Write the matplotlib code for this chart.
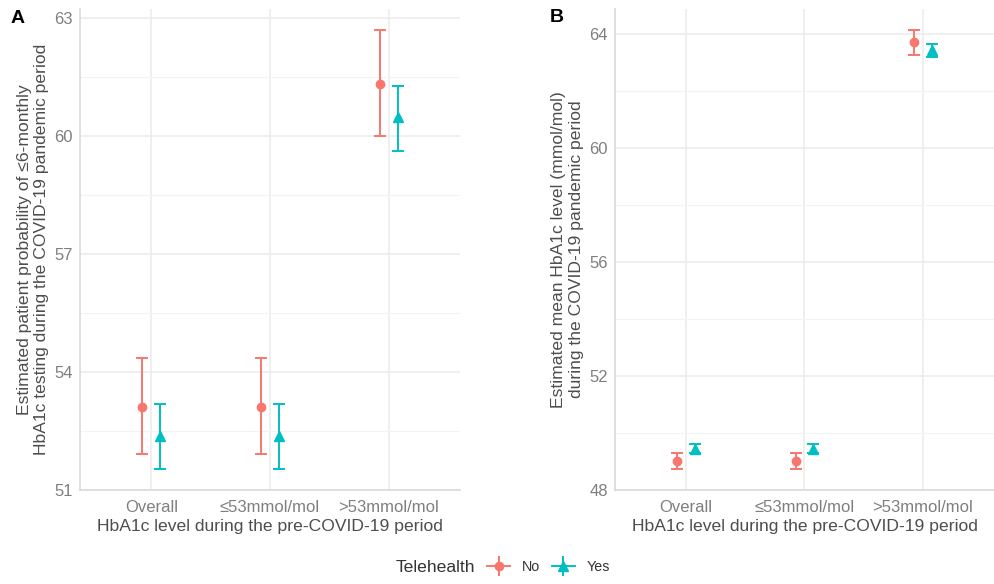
import numpy as np
import matplotlib.pyplot as plt
from matplotlib.lines import Line2D
from matplotlib.legend_handler import HandlerTuple

plt.rcParams['font.family'] = ['Liberation Sans', 'DejaVu Sans']

categories = ['Overall', '≤53mmol/mol', '>53mmol/mol']
groups = ['No', 'Yes']
colors = {'No': '#F8766D', 'Yes': '#00BFC4'}
markers = {'No': 'o', 'Yes': '^'}

# panel A: probability of <=6-monthly testing
a_est = {'No': [53.12, 53.12, 61.33], 'Yes': [52.37, 52.37, 60.48]}
a_lo = {'No': [51.91, 51.91, 60.00], 'Yes': [51.53, 51.53, 59.63]}
a_hi = {'No': [54.35, 54.35, 62.69], 'Yes': [53.18, 53.18, 61.28]}

# panel B: mean HbA1c level
b_est = {'No': [49.00, 49.00, 63.69], 'Yes': [49.45, 49.45, 63.43]}
b_lo = {'No': [48.74, 48.74, 63.26], 'Yes': [49.28, 49.28, 63.19]}
b_hi = {'No': [49.28, 49.28, 64.11], 'Yes': [49.62, 49.62, 63.63]}

TICK_C = '#7F7F7F'
TEXT_C = '#4D4D4D'
FS = 12.6
TFS = 12


def panel(ax, est, lo, hi, ylim, yticks, yminor, ylabel):
    x = np.arange(1, len(categories) + 1)
    for k, g in enumerate(groups):
        off = -0.075 if k == 0 else 0.075
        e = np.array(est[g])
        yerr = [e - np.array(lo[g]), np.array(hi[g]) - e]
        ax.errorbar(x + off, e, yerr=yerr, fmt=markers[g], color=colors[g],
                    ms=6 if g == 'No' else 7.5, elinewidth=1.4, capsize=4.3,
                    capthick=1.4, zorder=3)
    ax.set_xlim(0.4, 3.6)
    ax.set_ylim(*ylim)
    ax.set_xticks(x)
    ax.set_xticklabels(categories)
    ax.set_yticks(yticks)
    ax.set_yticks(yminor, minor=True)
    ax.grid(True, which='major', color='#EBEBEB', lw=1.1, zorder=0)
    ax.grid(True, which='minor', axis='y', color='#F3F3F3', lw=0.8, zorder=0)
    ax.tick_params(length=0, labelsize=TFS, labelcolor=TICK_C)
    ax.tick_params(axis='x', pad=7)
    ax.tick_params(axis='y', pad=5)
    ax.tick_params(which='minor', length=0)
    for s in ['top', 'right']:
        ax.spines[s].set_visible(False)
    for s in ['left', 'bottom']:
        ax.spines[s].set_color('#D9D9D9')
        ax.spines[s].set_linewidth(1.2)
    ax.set_xlabel('HbA1c level during the pre-COVID-19 period', fontsize=FS,
                  color=TEXT_C, labelpad=3)
    ax.set_ylabel(ylabel, fontsize=FS, color=TEXT_C, labelpad=4)
    ax.set_axisbelow(True)


fig = plt.figure(figsize=(9.94, 5.84), dpi=100)
axA = fig.add_axes([0.0805, 0.161, 0.3823, 0.8236])
axB = fig.add_axes([0.6187, 0.161, 0.3813, 0.8236])

panel(axA, a_est, a_lo, a_hi, (51, 63.23), [51, 54, 57, 60, 63],
      [52.5, 55.5, 58.5, 61.5],
      'Estimated patient probability of ≤6-monthly\nHbA1c testing during the COVID-19 pandemic period')
panel(axB, b_est, b_lo, b_hi, (48, 64.86), [48, 52, 56, 60, 64],
      [50, 54, 58, 62],
      'Estimated mean HbA1c level (mmol/mol)\nduring the COVID-19 pandemic period')

fig.text(0.011, 0.968, 'A', fontsize=14, fontweight='bold', ha='left', va='center')
fig.text(0.553, 0.970, 'B', fontsize=14, fontweight='bold', ha='left', va='center')

handles = []
for g in groups:
    h = (Line2D([], [], color=colors[g], lw=1.4),
         Line2D([], [], color=colors[g], marker='|', ms=14, mew=1.4, ls='none'),
         Line2D([], [], color=colors[g], marker=markers[g], ms=6 if g == 'No' else 7.5, ls='none'))
    handles.append(h)
fig.text(0.398, 0.029, 'Telehealth', fontsize=FS, color='#333333', va='center', ha='left')
leg = fig.legend(handles, groups, loc='center left', bbox_to_anchor=(0.48, 0.029),
                 ncol=2, frameon=False, fontsize=10.3, handlelength=1.6,
                 handler_map={tuple: HandlerTuple(ndivide=1)},
                 columnspacing=0.8, handletextpad=0.85, borderpad=0.2)
for t in leg.get_texts():
    t.set_color('#333333')

fig.savefig('out.png', dpi=100)
